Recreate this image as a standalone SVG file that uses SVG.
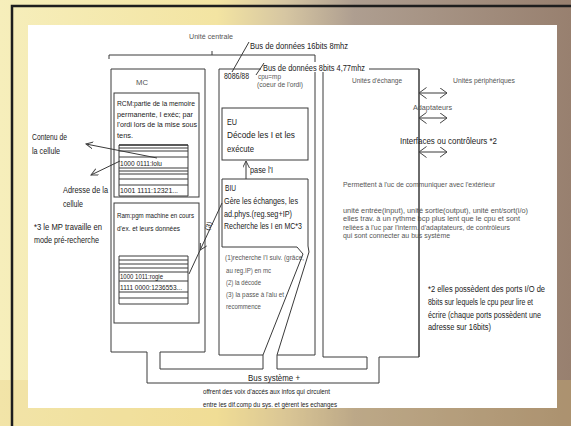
<svg xmlns="http://www.w3.org/2000/svg" width="571" height="426" viewBox="0 0 571 426">
<defs>
<linearGradient id="bg" x1="0" y1="0" x2="1" y2="0">
<stop offset="0" stop-color="#f6eebb"/>
<stop offset="0.38" stop-color="#f3e4a2"/>
<stop offset="0.5" stop-color="#d6c6a2"/>
<stop offset="0.62" stop-color="#ae9e90"/>
<stop offset="1" stop-color="#98806f"/>
</linearGradient>
<marker id="ah" markerUnits="userSpaceOnUse" markerWidth="9" markerHeight="9" refX="7" refY="3.5" orient="auto-start-reverse">
<path d="M0,0 L7,3.5 L0,7" fill="none" stroke="#444" stroke-width="1"/>
</marker>
<marker id="big" markerUnits="userSpaceOnUse" markerWidth="10" markerHeight="12" refX="7.5" refY="5.5" orient="auto-start-reverse">
<path d="M0,0 L7.5,5.5 L0,11" fill="none" stroke="#444" stroke-width="1"/>
</marker>
</defs>
<style>
.ln{fill:none;stroke:#3a3a3a;stroke-width:1}
.t{font-family:"Liberation Sans",Arial,sans-serif;fill:#1a1a1a}
.g{fill:#555}
.f7{font-size:7px}.f75{font-size:7.5px}.f8{font-size:8px}.f85{font-size:8.5px}.f9{font-size:9px}.f95{font-size:9.5px}
</style>
<rect x="0" y="0" width="571" height="426" fill="url(#bg)"/>
<rect x="0" y="380" width="571" height="46" fill="#e8c870" opacity="0.25"/>
<path d="M12,426 V6 H571" fill="none" stroke="#1e1e1e" stroke-width="2.5"/>
<rect x="28" y="25" width="529" height="383" fill="#ffffff"/>

<g id="unite-centrale">
<text class="t g f8" x="189" y="39" textLength="44" lengthAdjust="spacingAndGlyphs">Unité centrale</text>
<path class="ln" d="M212,51 V55"/>
<path class="ln" d="M109,59 V55 H315 V355 H277"/>
</g>

<g id="mc">
<path class="ln" d="M147,352 H111 V69 H205 V352 H160"/>
<text class="t g f8" x="136" y="85" textLength="12" lengthAdjust="spacingAndGlyphs">MC</text>
</g>

<g id="rcm">
<rect class="ln" x="114" y="93" width="85" height="104"/>
<text class="t f8" x="117" y="106" textLength="78" lengthAdjust="spacingAndGlyphs">RCM:partie de la memoire</text>
<text class="t f8" x="117" y="116.5" textLength="76" lengthAdjust="spacingAndGlyphs">permanente, I exéc; par</text>
<text class="t f8" x="117" y="127" textLength="80" lengthAdjust="spacingAndGlyphs">l'ordi lors de la mise sous</text>
<text class="t f8" x="117" y="137.5" textLength="16" lengthAdjust="spacingAndGlyphs">tens.</text>
<path class="ln" d="M119,145 V196 M188,145 V196 M119,148 H188 M119,151 H188 M119,157 H188 M119,168 H188 M119,171 H188 M119,174 H188 M119,179 H188 M119,185 H188 M119,196 H188"/>
<path d="M119,145 H188" stroke="#222" stroke-width="1.6"/>
<text class="t f8" x="120" y="166" textLength="42" lengthAdjust="spacingAndGlyphs">1000 0111:lolu</text>
<text class="t f8" x="120" y="193" textLength="58" lengthAdjust="spacingAndGlyphs">1001 1111:12321...</text>
</g>

<g id="ram">
<rect class="ln" x="114" y="203" width="85" height="120"/>
<text class="t f8" x="117" y="218" textLength="77" lengthAdjust="spacingAndGlyphs">Ram:pgm machine en cours</text>
<text class="t f8" x="117" y="231" textLength="63" lengthAdjust="spacingAndGlyphs">d'ex. et leurs données</text>
<path class="ln" d="M119,256 V304 M188,256 V304 M119,256 H188 M119,260 H188 M119,264 H188 M119,268 H188 M119,272 H188 M119,281 H188 M119,292 H188 M119,298 H188 M119,304 H188"/>
<text class="t f8" x="120" y="279" textLength="43" lengthAdjust="spacingAndGlyphs">1000 1011:rogie</text>
<text class="t f8" x="120" y="290" textLength="62" lengthAdjust="spacingAndGlyphs">1111 0000:1236553...</text>
</g>

<g id="cpu">
<path class="ln" d="M263,355 H219 V69 H315"/>
<text class="t f9" x="224" y="78.5" textLength="25" lengthAdjust="spacingAndGlyphs">8086/88</text>
<text class="t g f7" x="258" y="78.5" textLength="23" lengthAdjust="spacingAndGlyphs">cpu=mp</text>
<text class="t g f7" x="257" y="87" textLength="46" lengthAdjust="spacingAndGlyphs">(coeur de l'ordi)</text>
</g>

<g id="eu">
<rect class="ln" x="222" y="108" width="86" height="52"/>
<text class="t f95" x="227" y="125" textLength="10" lengthAdjust="spacingAndGlyphs">EU</text>
<text class="t f95" x="227" y="138" textLength="68" lengthAdjust="spacingAndGlyphs">Décode les I et les</text>
<text class="t f95" x="227" y="152" textLength="27" lengthAdjust="spacingAndGlyphs">exécute</text>
</g>

<g id="biu">
<text class="t f95" x="225" y="191" textLength="11" lengthAdjust="spacingAndGlyphs">BIU</text>
<text class="t f95" x="224" y="204" textLength="74" lengthAdjust="spacingAndGlyphs">Gère les échanges, les</text>
<text class="t f95" x="224" y="216.5" textLength="68" lengthAdjust="spacingAndGlyphs">ad.phys.(reg.seg+IP)</text>
<text class="t f95" x="224" y="229" textLength="78" lengthAdjust="spacingAndGlyphs">Recherche les I en MC*3</text>
<text class="t g f75" x="225" y="259.5" textLength="79" lengthAdjust="spacingAndGlyphs">(1)recherche l'I suiv. (grâce,</text>
<text class="t g f75" x="226" y="272.5" textLength="45" lengthAdjust="spacingAndGlyphs">au reg.IP) en mc</text>
<text class="t g f75" x="226" y="284.5" textLength="35" lengthAdjust="spacingAndGlyphs">(2) la décode</text>
<text class="t g f75" x="226" y="296.5" textLength="58" lengthAdjust="spacingAndGlyphs">(3) la passe à l'alu et</text>
<text class="t g f75" x="226" y="308.5" textLength="35" lengthAdjust="spacingAndGlyphs">recommence</text>
</g>

<g id="exchange">
<path class="ln" d="M367,357 H323 V69 H419 V357 H379"/>
<rect x="261" y="62" width="108" height="10" fill="#ffffff"/>
<text class="t f95" x="263" y="70.5" textLength="102" lengthAdjust="spacingAndGlyphs">Bus de données 8bits 4,77mhz</text>
<text class="t g f75" x="352" y="82.5" textLength="50" lengthAdjust="spacingAndGlyphs">Unités d'échange</text>
<text class="t g f7" x="343" y="186.5" textLength="152" lengthAdjust="spacingAndGlyphs">Permettent à l'uc de communiquer avec l'extérieur</text>
<text class="t g f7" x="343" y="212.5" textLength="185" lengthAdjust="spacingAndGlyphs">unité entrée(input), unité sortie(output), unité ent/sort(i/o)</text>
<text class="t g f7" x="343" y="221" textLength="177" lengthAdjust="spacingAndGlyphs">elles trav. à un rythme bcp plus lent que le cpu et sont</text>
<text class="t g f7" x="343" y="229.5" textLength="167" lengthAdjust="spacingAndGlyphs">reliées à l'uc par l'interm. d'adaptateurs, de contrôleurs</text>
<text class="t g f7" x="343" y="238" textLength="107" lengthAdjust="spacingAndGlyphs">qui sont connecter au bus système</text>
<path class="ln" d="M419,69 V357"/>
</g>

<g id="peripheriques">
<text class="t g f75" x="453" y="82.5" textLength="62" lengthAdjust="spacingAndGlyphs">Unités périphériques</text>
<text class="t g f75" x="413" y="109.5" textLength="39" lengthAdjust="spacingAndGlyphs">Adaptateurs</text>
<text class="t f9" x="400" y="144" textLength="97" lengthAdjust="spacingAndGlyphs">Interfaces ou contrôleurs *2</text>
</g>

<g id="notes">
<text class="t f9" x="32" y="140" textLength="35" lengthAdjust="spacingAndGlyphs">Contenu de</text>
<text class="t f9" x="32" y="154" textLength="28" lengthAdjust="spacingAndGlyphs">la cellule</text>
<text class="t f9" x="63" y="193" textLength="45" lengthAdjust="spacingAndGlyphs">Adresse de la</text>
<text class="t f9" x="63" y="207" textLength="20" lengthAdjust="spacingAndGlyphs">cellule</text>
<text class="t f9" x="34" y="230" textLength="68" lengthAdjust="spacingAndGlyphs">*3 le MP travaille en</text>
<text class="t f9" x="34" y="243" textLength="65" lengthAdjust="spacingAndGlyphs">mode pré-recherche</text>
<text class="t f85" x="428" y="292" textLength="117" lengthAdjust="spacingAndGlyphs">*2  elles possèdent des ports I/O de</text>
<text class="t f85" x="428" y="305" textLength="105" lengthAdjust="spacingAndGlyphs">8bits sur lequels le cpu peur lire et</text>
<text class="t f85" x="428" y="318" textLength="113" lengthAdjust="spacingAndGlyphs">écrire (chaque ports possèdent une</text>
<text class="t f85" x="428" y="330" textLength="63" lengthAdjust="spacingAndGlyphs">adresse sur 16bits)</text>
<text class="t f95" x="250" y="48.5" textLength="98" lengthAdjust="spacingAndGlyphs">Bus de données 16bits 8mhz</text>
</g>

<g id="bus-systeme">
<text class="t f95" x="248" y="380.5" textLength="52" lengthAdjust="spacingAndGlyphs">Bus système +</text>
<text class="t f75" x="203" y="393.5" textLength="127" lengthAdjust="spacingAndGlyphs">offrent des voix d'accés aux infos qui circulent</text>
<text class="t f75" x="203" y="407" textLength="134" lengthAdjust="spacingAndGlyphs">entre les dif.comp du sys. et gèrent les echanges</text>
</g>

<g id="connectors">
<path class="ln" d="M160,352 V369 H263 V355 L303,254 L297,247 H222 V179 H308 V246 L309,252 L277,355 V369 H367 V357"/>
<path class="ln" d="M147,352 V383 H379 V357"/>
<path class="ln" d="M249,42 L232,72"/>
<path class="ln" d="M256,75 L264,63"/>
<path class="ln" d="M246,179 V161" marker-end="url(#ah)"/>
<text class="t f85" x="250" y="173" textLength="23" lengthAdjust="spacingAndGlyphs">pase l'I</text>
<path class="ln" d="M157,158 L86,144" marker-end="url(#ah)"/>
<path class="ln" d="M120,161 L91,175" marker-end="url(#ah)"/>
<path class="ln" d="M222,203 L189,274"/>
<path class="ln" d="M200.4,243 L200.2,250 L206.7,246"/>
<text class="t f7" x="0" y="0" transform="translate(209,231) rotate(-70)" textLength="9" lengthAdjust="spacingAndGlyphs">(3)</text>
<path class="ln" d="M419,93 H447" marker-start="url(#big)" marker-end="url(#big)"/>
<path class="ln" d="M419,118 H447" marker-start="url(#big)" marker-end="url(#big)"/>
<path class="ln" d="M419,152 H447" marker-start="url(#big)" marker-end="url(#big)"/>
</g>
</svg>
